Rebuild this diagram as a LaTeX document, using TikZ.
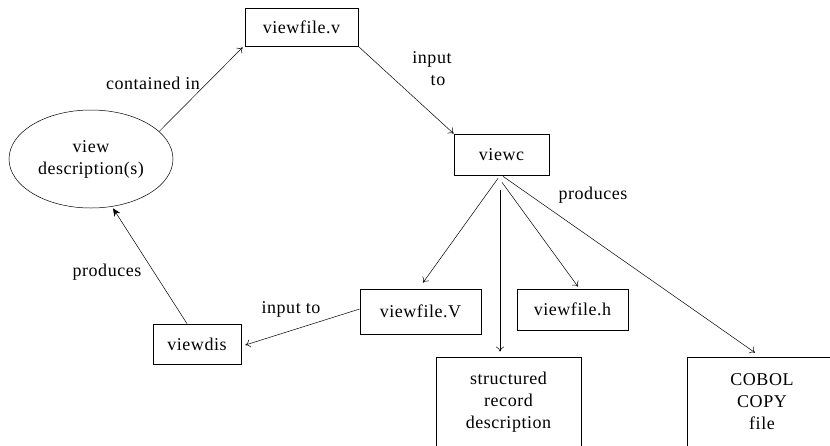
\documentclass[tikz,border=0pt]{standalone}
\usepackage{fontspec}
\setmainfont{Liberation Serif}[LetterSpace=3]
\usetikzlibrary{arrows.meta,shapes.geometric}
\begin{document}
\begin{tikzpicture}[x=1pt,y=-1pt,
  every node/.style={font=\fontsize{18}{22}\selectfont},
  box/.style={draw,line width=0.7pt,inner sep=0pt,align=center},
  conn/.style={line width=0.5pt,-{To[length=5pt,width=8pt]}},
  lbl/.style={inner sep=0pt,align=center}]
\useasboundingbox (0,0) rectangle (830,445);
\clip (0,0) rectangle (830,445);
\node[box,minimum width=113pt,minimum height=38pt] (vfv) at (301.5,27) {viewfile.v};
\node[box,minimum width=95pt,minimum height=41pt] (viewc) at (501.5,154.5) {viewc};
\node[draw,line width=0.5pt,ellipse,inner sep=0pt,minimum width=164pt,minimum height=98pt,align=center] (ell) at (91,159) {view\\description(s)};
\node[box,minimum width=121pt,minimum height=45pt] (vfV) at (420.5,311.5) {viewfile.V};
\node[box,minimum width=111pt,minimum height=41pt] (vfh) at (572.5,309.5) {viewfile.h};
\node[box,minimum width=145pt,minimum height=90pt] (srd) at (508.5,402) {structured\\record\\description};
\node[box,minimum width=150pt,minimum height=90pt] (cobol) at (762,402) {COBOL\\COPY\\file};
\node[box,minimum width=88pt,minimum height=40pt] (vdis) at (197,344) {viewdis};

\draw[conn] (ell.22) -- ([shift={(-2pt,-1pt)}]vfv.south west);
\draw[conn] (vfv.south east) -- (viewc.north west);
\draw[conn] ([shift={(-3.5pt,-3pt)}]viewc.south) -- ([shift={(2.5pt,6pt)}]vfV.north);
\draw[conn] ([shift={(-1.5pt,-15pt)}]viewc.south) -- ([shift={(-8.5pt,5pt)}]srd.north);
\draw[conn] ([shift={(0.5pt,-7pt)}]viewc.south) -- ([shift={(5.5pt,2pt)}]vfh.north);
\draw[conn] ([shift={(1.5pt,-1pt)}]viewc.south) -- ([shift={(-7pt,4pt)}]cobol.north);
\draw[conn] ([shift={(0pt,2.5pt)}]vfV.west) -- ([shift={(4pt,-1pt)}]vdis.east);
\draw[line width=0.5pt,-{Stealth[length=8pt,width=7pt]}] ([shift={(-10pt,0pt)}]vdis.north) -- ([shift={(22pt,0pt)}]ell.south);

\node[lbl] (l1) at (153,83) {contained in};
\node[lbl] (l2a) at (432,59) {input};
\node[lbl] (l2b) at (438,81) {to};
\node[lbl] (l3) at (593,195) {produces};
\node[lbl] (l4) at (291,309) {input to};
\node[lbl] (l5) at (107,272) {produces};
\end{tikzpicture}
\end{document}
